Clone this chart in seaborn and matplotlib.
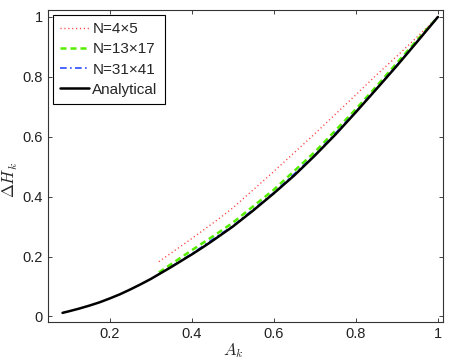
"""Discrete vs analytical enthalpy-change curves."""

import matplotlib

matplotlib.use("Agg")
import matplotlib.pyplot as plt
import numpy as np
import pandas as pd
import seaborn as sns

# analytical curve
x_analytical = [0.085, 0.10, 0.125, 0.15, 0.175, 0.20, 0.225, 0.25, 0.275, 0.30,
                0.325, 0.35, 0.375, 0.40, 0.425, 0.45, 0.475, 0.50, 0.55, 0.60,
                0.65, 0.70, 0.75, 0.80, 0.85, 0.90, 0.95, 1.00]
y_analytical = [0.012, 0.017, 0.026, 0.036, 0.047, 0.060, 0.074, 0.090, 0.107, 0.125,
                0.145, 0.165, 0.186, 0.207, 0.229, 0.252, 0.276, 0.300, 0.354, 0.411,
                0.471, 0.537, 0.607, 0.682, 0.759, 0.837, 0.918, 1.000]

# numerical solutions
x_num = [0.32, 0.40, 0.46, 0.50, 0.60, 0.70, 0.80, 0.85, 0.90, 0.95, 1.00]
y_4x5 = [0.183, 0.260, 0.320, 0.362, 0.484, 0.610, 0.740, 0.806, 0.869, 0.934, 1.000]
y_13x17 = [0.147, 0.221, 0.275, 0.313, 0.423, 0.549, 0.692, 0.768, 0.846, 0.924, 1.000]
y_31x41 = [0.141, 0.209, 0.266, 0.302, 0.413, 0.539, 0.684, 0.761, 0.839, 0.919, 1.000]

LABELS = ["N=4\u00d75", "N=13\u00d717", "N=31\u00d741", "Analytical"]

sns.set_style("ticks")
plt.rcParams["font.family"] = ["Liberation Sans", "DejaVu Sans"]
plt.rcParams["mathtext.fontset"] = "cm"
plt.rcParams["xtick.direction"] = "in"
plt.rcParams["ytick.direction"] = "in"

fig = plt.figure(figsize=(4.5, 3.6), dpi=100)
ax = fig.add_axes([0.107, 0.106, 0.877, 0.866])

series = [
    (x_num, y_4x5, "#ff3b3b", (0, (0.8, 2.0)), 1.0),
    (x_num, y_13x17, "#55ee00", (0, (2.4, 1.6)), 1.8),
    (x_num, y_31x41, "#2a4cff", (0, (4, 2, 1, 2)), 1.2),
    (x_analytical, y_analytical, "black", "-", 1.8),
]
for (xs, ys, color, ls, lw), label in zip(series, LABELS):
    df = pd.DataFrame({"A": xs, "H": ys})
    sns.lineplot(data=df, x="A", y="H", color=color, linestyle=ls,
                 linewidth=lw, label=label, ax=ax)

ax.set_xlim(0.05, 1.012)
ax.set_ylim(-0.018, 1.023)
ax.set_xticks([0.2, 0.4, 0.6, 0.8, 1.0])
ax.set_xticklabels(["0.2", "0.4", "0.6", "0.8", "1"])
ax.set_yticks([0, 0.2, 0.4, 0.6, 0.8, 1.0])
ax.set_yticklabels(["0", "0.2", "0.4", "0.6", "0.8", "1"])
ax.tick_params(labelsize=10.5, top=True, right=True, length=3, width=0.6,
               colors="#222222", pad=4)
for spine in ax.spines.values():
    spine.set_visible(True)
    spine.set_linewidth(0.8)
    spine.set_color("#333333")
ax.set_xlabel(r"$A_k$", fontsize=12)
ax.set_ylabel(r"$\Delta\bar{H}_k$", fontsize=12)
ax.xaxis.set_label_coords(0.47, -0.062)
ax.yaxis.set_label_coords(-0.071, 0.455)

leg = ax.legend(loc="upper left", fontsize=11, frameon=True, fancybox=False,
                edgecolor="black", framealpha=1, handlelength=1.9,
                handletextpad=0.2, labelspacing=0.4, borderpad=0.5,
                borderaxespad=0.3)
leg.get_frame().set_linewidth(0.8)

fig.savefig("out.png", dpi=100)
